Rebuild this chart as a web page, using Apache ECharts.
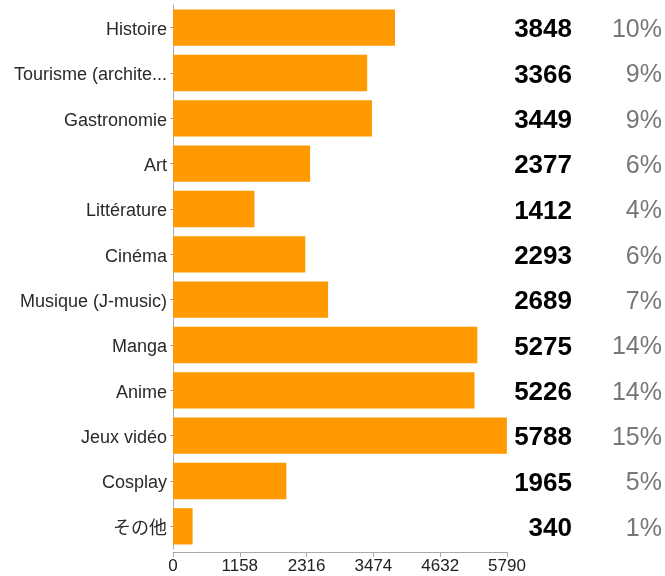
<!DOCTYPE html>
<html>
<head>
<meta charset="utf-8">
<script src="https://cdn.jsdelivr.net/npm/echarts@6/dist/echarts.min.js"></script>
<style>
  html, body { margin: 0; padding: 0; background: #fff; }
  #main { width: 665px; height: 576px; }
</style>
</head>
<body>
<div id="main"></div>
<script>
// catégories, valeurs et pourcentages
const categories = ['Histoire', 'Tourisme (archite...', 'Gastronomie', 'Art', 'Littérature', 'Cinéma',
  'Musique (J-music)', 'Manga', 'Anime', 'Jeux vidéo', 'Cosplay', 'その他'];
const counts = [3848, 3366, 3449, 2377, 1412, 2293, 2689, 5275, 5226, 5788, 1965, 340];
const percents = ['10%', '9%', '9%', '6%', '4%', '6%', '7%', '14%', '14%', '15%', '5%', '1%'];
const xTicks = [0, 1158, 2316, 3474, 4632, 5790];

const fontFamily = '"Liberation Sans", Arial, "Noto Sans CJK JP", sans-serif';
const myChart = echarts.init(document.getElementById('main'));

// petit décalage vertical des libellés (texte un peu sous le centre de la bande)
const shifted = (v) => '{t|' + v + '}';

const option = {
  animation: false,
  textStyle: { fontFamily: fontFamily },
  grid: { left: 173, right: 158, top: 5, bottom: 27 },
  xAxis: {
    type: 'value',
    min: xTicks[0],
    max: xTicks[xTicks.length - 1],
    interval: xTicks[1] - xTicks[0],
    offset: 3,
    splitLine: { show: false },
    axisLine: { show: true, lineStyle: { color: '#aaa' } },
    axisTick: { show: true, length: 5, lineStyle: { color: '#aaa' } },
    axisLabel: {
      color: '#222', fontSize: 17, margin: 6, fontFamily: fontFamily,
      formatter: (v) => String(v)
    }
  },
  yAxis: [
    {
      type: 'category',
      inverse: true,
      data: categories,
      axisLine: { show: true, lineStyle: { color: '#aaa' } },
      axisTick: { show: true, alignWithLabel: true, length: 3, lineStyle: { color: '#aaa' } },
      axisLabel: {
        margin: 6, formatter: shifted,
        rich: { t: { color: '#2a2a2a', fontSize: 18, padding: [5, 0, 0, 0], fontFamily: fontFamily } }
      }
    },
    {
      // colonne des effectifs
      type: 'category',
      inverse: true,
      position: 'right',
      data: counts.map(String),
      axisLine: { show: false },
      axisTick: { show: false },
      axisLabel: {
        align: 'right', margin: 65, formatter: shifted,
        rich: { t: { color: '#000', fontSize: 26, fontWeight: 'bold', padding: [5, 0, 0, 0], fontFamily: fontFamily } }
      }
    },
    {
      // colonne des pourcentages
      type: 'category',
      inverse: true,
      position: 'right',
      data: percents,
      axisLine: { show: false },
      axisTick: { show: false },
      axisLabel: {
        align: 'right', margin: 155, formatter: shifted,
        rich: { t: { color: '#777', fontSize: 25, padding: [5, 0, 0, 0], fontFamily: fontFamily } }
      }
    }
  ],
  series: [
    {
      type: 'bar',
      data: counts,
      barWidth: '80%',
      itemStyle: { color: '#ff9900' }
    }
  ]
};

myChart.setOption(option);
</script>
</body>
</html>
